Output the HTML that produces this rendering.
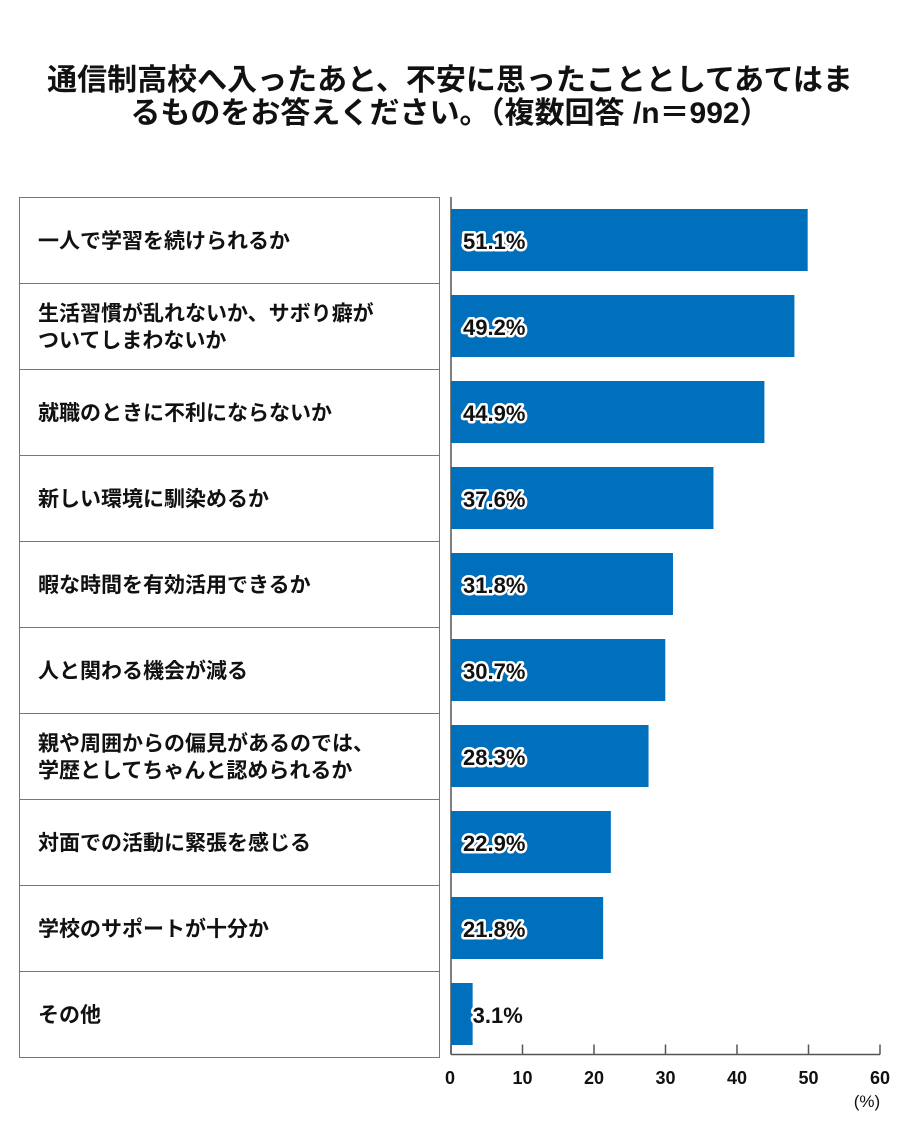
<!DOCTYPE html>
<html><head><meta charset="utf-8">
<style>
body{margin:0;background:#fff;width:900px;height:1140px;overflow:hidden;font-family:"Liberation Sans","Noto Sans CJK JP",sans-serif;}
</style></head>
<body>
<svg width="900" height="1140" xmlns="http://www.w3.org/2000/svg" id="chart">
<text x="450" y="90" text-anchor="middle" font-size="30" font-weight="bold" fill="#111" font-family="Liberation Sans, Noto Sans CJK JP, sans-serif">通信制高校へ入ったあと、不安に思ったこととしてあてはま</text>
<text x="450" y="123" text-anchor="middle" font-size="30" font-weight="bold" fill="#111" font-family="Liberation Sans, Noto Sans CJK JP, sans-serif">るものをお答えください。（複数回答 /n＝992）</text>
<g id="rows"></g>
<g id="bars"></g>
<g id="axis"></g>
</svg>
<script>
const categories=[["一人で学習を続けられるか"],["生活習慣が乱れないか、サボり癖が","ついてしまわないか"],["就職のときに不利にならないか"],["新しい環境に馴染めるか"],["暇な時間を有効活用できるか"],["人と関わる機会が減る"],["親や周囲からの偏見があるのでは、","学歴としてちゃんと認められるか"],["対面での活動に緊張を感じる"],["学校のサポートが十分か"],["その他"]];
const values=[51.1,49.2,44.9,37.6,31.8,30.7,28.3,22.9,21.8,3.1];
const valueLabels=["51.1%","49.2%","44.9%","37.6%","31.8%","30.7%","28.3%","22.9%","21.8%","3.1%"];
const ticks=[0,10,20,30,40,50,60];
const NS="http://www.w3.org/2000/svg";
const x0=451, rowTop=197, rowH=86;
const xBar=v=>x0+v*6.98;
const xAxis=v=>x0+v*7.15;
function mk(tag,attrs,parent,text){const e=document.createElementNS(NS,tag);for(const k in attrs)e.setAttribute(k,attrs[k]);if(text!==undefined)e.textContent=text;parent.appendChild(e);return e;}
const rows=document.getElementById('rows'),bars=document.getElementById('bars'),axis=document.getElementById('axis');
const box=mk('rect',{x:19.5,y:rowTop+0.5,width:420,height:rowH*categories.length,fill:'none',stroke:'#777','stroke-width':1},rows);


categories.forEach((c,i)=>{
  const y=rowTop+i*rowH;
  if(i>0){const l=mk('line',{x1:19,x2:440,y1:y+0.5,y2:y+0.5,stroke:'#777'},rows);
    
    }
  const cy=y+rowH/2;
  c.forEach((line,j)=>{
    const ty=cy+8+(j-(c.length-1)/2)*27;
    const t=mk('text',{x:38,y:ty,'font-size':21,'font-weight':'bold',fill:'#111'},rows,line);
    
    
  });
  const b=mk('rect',{x:x0,y:y+12,width:xBar(values[i])-x0,height:62,fill:'#0070bd'},bars);
  
  
  const tx=values[i]<10?xBar(values[i]):x0+12;
  const vl=mk('text',{x:tx,y:y+52,'font-size':22,'font-weight':'bold',fill:'#111',stroke:'#fff','stroke-width':5,'paint-order':'stroke','stroke-linejoin':'round'},bars,valueLabels[i]);
  
  
});
const ay=1054.5;
const yl=mk('line',{x1:x0,x2:x0,y1:rowTop,y2:ay,stroke:'#555','stroke-width':1.5},axis);


const xl=mk('line',{x1:x0,x2:xAxis(60),y1:ay,y2:ay,stroke:'#555','stroke-width':1.5},axis);


ticks.forEach(t=>{
  const x=xAxis(t);
  const tk=mk('line',{x1:x,x2:x,y1:ay-10,y2:ay,stroke:'#555','stroke-width':1.5},axis);
  
  
  const tl=mk('text',{x:t===0?x-6:x,y:1084,'text-anchor':t===0?'start':'middle','font-size':18,'font-weight':'bold',fill:'#111'},axis,String(t));
  
  
});
const u=mk('text',{x:867,y:1107,'text-anchor':'middle','font-size':17,fill:'#111'},axis,'(%)');


</script>
</body></html>
